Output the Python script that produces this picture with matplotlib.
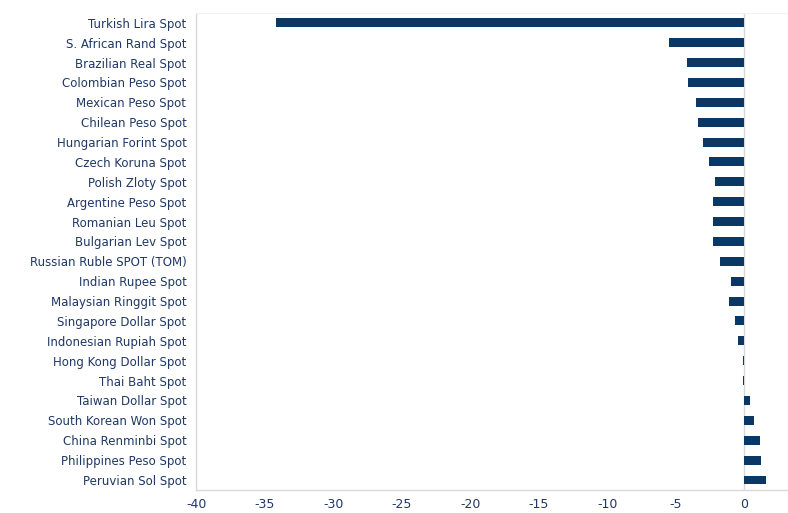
import matplotlib.pyplot as plt

# ── data ──────────────────────────────────────────────────────────────────────
currencies = [
    "Turkish Lira Spot", "S. African Rand Spot", "Brazilian Real Spot",
    "Colombian Peso Spot", "Mexican Peso Spot", "Chilean Peso Spot",
    "Hungarian Forint Spot", "Czech Koruna Spot", "Polish Zloty Spot",
    "Argentine Peso Spot", "Romanian Leu Spot", "Bulgarian Lev Spot",
    "Russian Ruble SPOT (TOM)", "Indian Rupee Spot", "Malaysian Ringgit Spot",
    "Singapore Dollar Spot", "Indonesian Rupiah Spot", "Hong Kong Dollar Spot",
    "Thai Baht Spot", "Taiwan Dollar Spot", "South Korean Won Spot",
    "China Renminbi Spot", "Philippines Peso Spot", "Peruvian Sol Spot",
]
returns = [
    -34.2, -5.5, -4.2, -4.1, -3.5, -3.4, -3.0, -2.6, -2.1, -2.3, -2.3, -2.3,
    -1.8, -0.95, -1.1, -0.7, -0.45, -0.05, -0.05, 0.4, 0.7, 1.15, 1.2, 1.6,
]
x_ticks = [-40, -35, -30, -25, -20, -15, -10, -5, 0]

BAR = "#0B3764"
TEXT = "#1F3864"
GRID = "#D9D9D9"

fig = plt.figure(figsize=(7.88, 5.13), dpi=100)
ax = fig.add_axes([0.249, 0.045, 0.751, 0.93])

ypos = list(range(len(currencies)))
ax.barh(ypos, returns, height=0.45, color=BAR, zorder=3)
ax.axvline(0, color=GRID, linewidth=1.0, zorder=2)

ax.set_ylim(len(currencies) - 0.5, -0.5)
ax.set_xlim(-40, 3.2)
ax.set_yticks(ypos)
ax.set_yticklabels(currencies, fontsize=8.5, color=TEXT)
ax.set_xticks(x_ticks)
ax.set_xticklabels([str(t) for t in x_ticks], fontsize=9, color=TEXT)
ax.tick_params(axis="y", length=0, pad=7)
ax.tick_params(axis="x", length=0, pad=6)

ax.spines["right"].set_visible(False)
ax.spines["top"].set_color("#F2F2F2")
for side in ("left", "bottom"):
    ax.spines[side].set_color(GRID)
    ax.spines[side].set_linewidth(1.0)

fig.savefig("out.png", dpi=100)
